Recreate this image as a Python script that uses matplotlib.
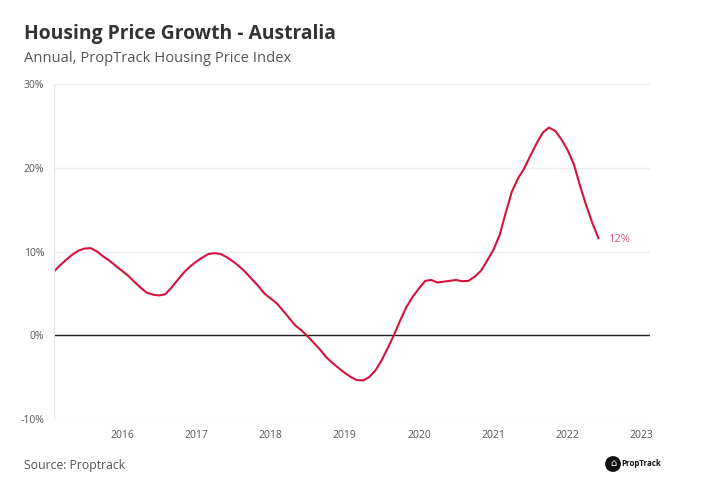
import matplotlib
matplotlib.use("Agg")
import matplotlib.pyplot as plt
import pandas as pd
import matplotlib.dates as mdates

dates = pd.date_range("2015-02-01", "2022-06-01", freq="MS")
growth = [7.6, 8.3, 9.0, 9.6, 10.1, 10.35, 10.4, 10.0, 9.4, 8.9, 8.3,
          7.7, 7.1, 6.4, 5.7, 5.1, 4.85, 4.75, 4.9, 5.7, 6.6, 7.5, 8.2,
          8.8, 9.3, 9.7, 9.8, 9.7, 9.3, 8.8, 8.2, 7.5, 6.7, 5.9, 5.0,
          4.4, 3.8, 3.0, 2.1, 1.2, 0.6, -0.1, -0.9, -1.7, -2.6, -3.3, -3.9,
          -4.5, -5.0, -5.35, -5.4, -5.0, -4.2, -3.0, -1.5, 0.1, 1.8, 3.4, 4.6,
          5.6, 6.5, 6.6, 6.3, 6.4, 6.5, 6.6, 6.45, 6.5, 7.0, 7.7, 8.9,
          10.2, 12.0, 14.5, 17.1, 18.7, 19.9, 21.4, 22.9, 24.2, 24.8, 24.4, 23.4,
          22.1, 20.4, 18.0, 15.6, 13.5, 11.6]
year_ticks = [2016, 2017, 2018, 2019, 2020, 2021, 2022, 2023]
y_ticks = [-10, 0, 10, 20, 30]

plt.rcParams['font.family'] = ['Open Sans', 'DejaVu Sans']

fig = plt.figure(figsize=(7.02, 4.97), dpi=100)
ax = fig.add_axes([54/702, 78/497, 596/702, 335/497])

ax.plot(dates, growth, color='#d5123c', lw=1.5, solid_joinstyle='round')
ax.axhline(0, color='#222222', lw=1.0, zorder=1)

ax.set_ylim(-10, 30)
ax.set_xlim(dates[0], pd.Timestamp("2023-02-10"))
ax.set_yticks(y_ticks)
ax.set_yticklabels([f"{v}%" for v in y_ticks])
ax.set_xticks([pd.Timestamp(f"{y}-01-01") for y in year_ticks])
ax.set_xticklabels([str(y) for y in year_ticks])
ax.grid(axis='y', color='#ececec', lw=1.0)
ax.set_axisbelow(True)
for s in ['top', 'right', 'bottom']:
    ax.spines[s].set_visible(False)
ax.spines['left'].set_color('#e6e6e6')
ax.tick_params(axis='both', length=0, labelsize=7.5, colors='#555555')
ax.tick_params(axis='y', pad=7)
ax.tick_params(axis='x', pad=8)

ax.annotate(f"{round(growth[-1])}%", xy=(dates[-1], growth[-1]), xytext=(7, -1),
            textcoords='offset points', color='#e0587f', fontsize=8, va='center')

fig.text(24/702, 1 - 34/497, "Housing Price Growth - Australia", fontsize=13.9,
         fontweight='bold', color='#333333', va='center')
fig.text(24/702, 1 - 58/497, "Annual, PropTrack Housing Price Index", fontsize=10.6,
         color='#555555', va='center')
fig.text(24/702, 1 - 466/497, "Source: Proptrack", fontsize=8.85, color='#555555', va='center')
fig.text(613/702, 1 - 464/497, "\u2302", fontsize=7, color='white', ha='center', va='center',
         bbox=dict(boxstyle='circle,pad=0.25', fc='#111111', ec='none'))
fig.text(621/702, 1 - 464/497, "PropTrack", fontsize=5.7, fontweight='bold', color='#111111', va='center')

fig.savefig("out.png", dpi=100, facecolor='white')
